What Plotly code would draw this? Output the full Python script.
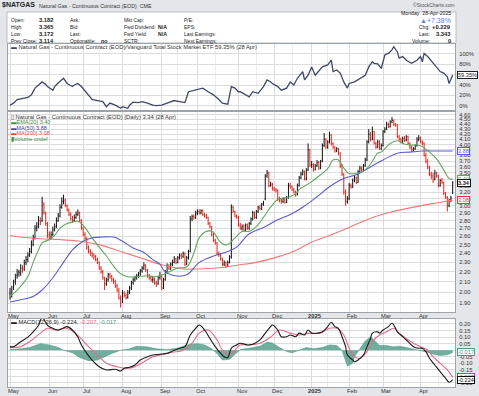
import numpy as np
import pandas as pd
import plotly.graph_objects as go

# ---------------- data ----------------
HOLIDAYS = ["2024-05-27", "2024-06-19", "2024-07-04", "2024-09-02", "2024-11-28",
            "2024-12-25", "2025-01-01", "2025-01-20", "2025-02-17", "2025-04-18"]
dates = [d for d in pd.bdate_range("2024-05-01", "2025-04-28")
         if d.strftime("%Y-%m-%d") not in HOLIDAYS]
idx = list(range(len(dates)))

opens = [
    1.99, 1.96, 2.04, 2.10, 2.16, 2.20, 2.18, 2.25, 2.23, 2.30, 2.33, 2.38, 2.42, 2.50, 2.58, 2.70, 2.72, 2.80, 2.80, 3.02, 2.90, 2.76,
    2.62, 2.58, 2.62, 2.68, 2.72, 2.80, 2.86, 2.98, 3.06, 3.08, 3.00, 2.94, 2.88, 2.82, 2.80, 2.84, 2.88, 2.90, 2.80,
    2.70, 2.62, 2.57, 2.46, 2.42, 2.40, 2.38, 2.36, 2.33, 2.30, 2.24, 2.20, 2.14, 2.08, 2.12, 2.17, 2.15, 2.12, 2.10, 2.06, 2.02, 1.95,
    1.92, 1.99, 1.97, 1.95, 2.00, 2.04, 2.09, 2.12, 2.14, 2.16, 2.18, 2.21, 2.24, 2.27, 2.22, 2.16, 2.14, 2.12, 2.12, 2.09, 2.08, 2.14,
    2.16, 2.04, 2.12, 2.20, 2.26, 2.24, 2.28, 2.30, 2.34, 2.30, 2.35, 2.38, 2.36, 2.40, 2.28, 2.35, 2.42, 2.82, 2.85, 2.84,
    2.90, 2.92, 2.90, 2.93, 2.88, 2.86, 2.84, 2.76, 2.72, 2.62, 2.55, 2.52, 2.40, 2.38, 2.34, 2.28, 2.30, 2.26, 2.30, 2.36, 2.98, 2.92, 2.86,
    2.84, 2.74, 2.70, 2.72, 2.68, 2.74, 2.70, 2.76, 2.82, 2.90, 2.84, 2.92, 2.98, 2.96, 3.02, 3.10, 3.45, 3.50, 3.30, 3.32,
    3.26, 3.24, 3.22, 3.10, 3.08, 3.06, 3.10, 3.05, 3.12, 3.30, 3.28, 3.24, 3.20, 3.16, 3.30, 3.42, 3.48, 3.52, 3.40, 3.55, 3.90,
    3.63, 3.64, 3.56, 3.62, 3.68, 3.58, 3.70, 3.98, 4.10, 3.95, 4.05, 4.18, 4.02, 3.95, 3.88, 3.92, 3.84, 3.62, 3.48, 3.20, 3.06,
    3.10, 3.30, 3.28, 3.38, 3.42, 3.35, 3.52, 3.58, 3.55, 3.62, 3.72, 4.05, 4.20, 4.10, 4.25, 4.02, 3.95, 4.05, 3.92,
    3.98, 4.25, 4.30, 4.40, 4.35, 4.45, 4.48, 4.40, 4.38, 4.15, 4.10, 4.05, 4.12, 4.08, 4.15, 4.02, 3.95, 3.90, 3.92, 3.98, 4.10,
    4.12, 4.05, 4.02, 3.80, 3.70, 3.60, 3.48, 3.45, 3.40, 3.50, 3.45, 3.30, 3.38, 3.35, 3.18, 3.12, 3.00, 3.08, 3.182,
]
highs = [
    2.04, 2.06, 2.12, 2.18, 2.23, 2.22, 2.28, 2.27, 2.33, 2.37, 2.41, 2.46, 2.55, 2.62, 2.74, 2.78, 2.86, 2.84, 3.13, 3.05, 2.92, 2.78,
    2.66, 2.66, 2.72, 2.76, 2.84, 2.90, 3.02, 3.12, 3.16, 3.10, 3.02, 2.96, 2.91, 2.86, 2.88, 2.92, 2.95, 2.92, 2.82,
    2.72, 2.65, 2.59, 2.49, 2.45, 2.42, 2.40, 2.38, 2.35, 2.31, 2.26, 2.22, 2.15, 2.14, 2.19, 2.19, 2.17, 2.14, 2.12, 2.08, 2.04, 1.97,
    2.02, 2.01, 1.99, 2.02, 2.06, 2.11, 2.14, 2.16, 2.18, 2.20, 2.23, 2.26, 2.30, 2.28, 2.23, 2.18, 2.16, 2.15, 2.14, 2.11, 2.16, 2.20,
    2.17, 2.14, 2.22, 2.29, 2.28, 2.30, 2.33, 2.37, 2.35, 2.37, 2.40, 2.40, 2.42, 2.41, 2.37, 2.44, 2.86, 2.88, 2.88, 2.93,
    2.95, 2.95, 2.95, 2.95, 2.90, 2.89, 2.85, 2.78, 2.73, 2.64, 2.57, 2.53, 2.42, 2.40, 2.35, 2.32, 2.31, 2.32, 2.38, 3.02, 3.00, 2.93, 2.88,
    2.86, 2.77, 2.75, 2.75, 2.76, 2.76, 2.78, 2.84, 2.93, 2.92, 2.94, 3.00, 3.01, 3.04, 3.07, 3.48, 3.55, 3.52, 3.36, 3.34,
    3.28, 3.26, 3.24, 3.13, 3.11, 3.12, 3.12, 3.14, 3.34, 3.34, 3.30, 3.26, 3.22, 3.33, 3.45, 3.52, 3.56, 3.54, 3.58, 4.02, 3.92,
    3.70, 3.66, 3.65, 3.72, 3.70, 3.72, 4.02, 4.22, 4.12, 4.08, 4.25, 4.20, 4.04, 3.97, 3.95, 3.94, 3.86, 3.65, 3.50, 3.24, 3.14,
    3.34, 3.33, 3.41, 3.46, 3.44, 3.55, 3.62, 3.61, 3.65, 3.76, 4.08, 4.30, 4.24, 4.35, 4.26, 4.05, 4.09, 4.08, 4.02,
    4.28, 4.34, 4.45, 4.43, 4.48, 4.55, 4.50, 4.42, 4.40, 4.18, 4.13, 4.15, 4.16, 4.18, 4.17, 4.04, 3.98, 3.95, 4.00, 4.14, 4.18,
    4.15, 4.08, 4.04, 3.85, 3.74, 3.62, 3.52, 3.50, 3.55, 3.52, 3.47, 3.40, 3.42, 3.36, 3.20, 3.14, 3.10, 3.14, 3.365,
]
lows = [
    1.93, 1.95, 2.02, 2.07, 2.13, 2.15, 2.16, 2.19, 2.21, 2.27, 2.30, 2.36, 2.40, 2.48, 2.56, 2.66, 2.70, 2.74, 2.78, 2.88, 2.73, 2.58,
    2.55, 2.56, 2.60, 2.66, 2.70, 2.78, 2.84, 2.96, 3.02, 2.98, 2.92, 2.86, 2.80, 2.77, 2.78, 2.82, 2.86, 2.78, 2.68,
    2.60, 2.55, 2.44, 2.40, 2.37, 2.35, 2.33, 2.31, 2.28, 2.22, 2.18, 2.12, 2.02, 2.06, 2.10, 2.13, 2.10, 2.08, 2.04, 2.00, 1.93, 1.86,
    1.90, 1.95, 1.93, 1.94, 1.98, 2.02, 2.07, 2.10, 2.12, 2.14, 2.16, 2.19, 2.22, 2.20, 2.14, 2.12, 2.10, 2.09, 2.07, 2.05, 2.07, 2.12,
    2.02, 2.03, 2.11, 2.18, 2.22, 2.22, 2.26, 2.29, 2.28, 2.29, 2.33, 2.34, 2.35, 2.26, 2.27, 2.33, 2.41, 2.79, 2.81, 2.82,
    2.87, 2.88, 2.88, 2.86, 2.84, 2.82, 2.74, 2.70, 2.60, 2.53, 2.50, 2.38, 2.36, 2.32, 2.26, 2.26, 2.24, 2.25, 2.29, 2.34, 2.90, 2.84, 2.82,
    2.72, 2.68, 2.67, 2.66, 2.66, 2.68, 2.68, 2.74, 2.80, 2.82, 2.82, 2.90, 2.94, 2.94, 3.00, 3.08, 3.42, 3.27, 3.28, 3.22,
    3.21, 3.19, 3.07, 3.05, 3.03, 3.04, 3.03, 3.04, 3.10, 3.25, 3.22, 3.18, 3.13, 3.15, 3.28, 3.40, 3.46, 3.38, 3.38, 3.53, 3.60,
    3.58, 3.52, 3.54, 3.60, 3.55, 3.56, 3.68, 3.95, 3.92, 3.92, 4.02, 3.98, 3.92, 3.85, 3.86, 3.80, 3.58, 3.45, 3.16, 3.00, 3.03,
    3.08, 3.25, 3.26, 3.35, 3.32, 3.34, 3.50, 3.52, 3.53, 3.60, 3.70, 4.02, 4.06, 4.08, 4.00, 3.92, 3.93, 3.90, 3.90,
    3.96, 4.22, 4.28, 4.32, 4.33, 4.42, 4.36, 4.35, 4.12, 4.06, 4.02, 4.03, 4.05, 4.06, 4.00, 3.92, 3.86, 3.87, 3.90, 3.96, 4.06,
    4.02, 3.98, 3.78, 3.66, 3.56, 3.45, 3.40, 3.34, 3.38, 3.42, 3.27, 3.28, 3.32, 3.15, 3.10, 2.92, 2.98, 3.05, 3.172,
]
closes = [
    1.96, 2.01, 2.06, 2.12, 2.17, 2.19, 2.24, 2.22, 2.29, 2.33, 2.38, 2.42, 2.50, 2.58, 2.70, 2.72, 2.80, 2.78, 3.05, 2.90, 2.76, 2.62,
    2.58, 2.62, 2.68, 2.72, 2.80, 2.86, 2.98, 3.06, 3.08, 3.00, 2.94, 2.88, 2.82, 2.80, 2.84, 2.88, 2.90, 2.80, 2.70,
    2.62, 2.57, 2.46, 2.42, 2.40, 2.38, 2.36, 2.33, 2.30, 2.24, 2.20, 2.14, 2.08, 2.12, 2.17, 2.15, 2.12, 2.10, 2.06, 2.02, 1.95, 1.90,
    1.99, 1.97, 1.95, 2.00, 2.04, 2.09, 2.12, 2.14, 2.16, 2.18, 2.21, 2.24, 2.27, 2.22, 2.16, 2.14, 2.12, 2.12, 2.09, 2.08, 2.14, 2.16,
    2.04, 2.12, 2.20, 2.26, 2.24, 2.28, 2.30, 2.34, 2.30, 2.35, 2.38, 2.36, 2.40, 2.28, 2.35, 2.42, 2.82, 2.85, 2.84, 2.90,
    2.92, 2.90, 2.93, 2.88, 2.86, 2.84, 2.76, 2.72, 2.62, 2.55, 2.52, 2.40, 2.38, 2.34, 2.28, 2.30, 2.26, 2.30, 2.36, 2.98, 2.92, 2.86, 2.84,
    2.74, 2.70, 2.72, 2.68, 2.74, 2.70, 2.76, 2.82, 2.90, 2.84, 2.92, 2.98, 2.96, 3.02, 3.05, 3.45, 3.50, 3.30, 3.32, 3.26,
    3.24, 3.22, 3.10, 3.08, 3.06, 3.10, 3.05, 3.12, 3.30, 3.28, 3.24, 3.20, 3.16, 3.30, 3.42, 3.48, 3.52, 3.40, 3.55, 3.90, 3.63,
    3.64, 3.56, 3.62, 3.68, 3.58, 3.70, 3.98, 4.10, 3.95, 4.05, 4.18, 4.02, 3.95, 3.88, 3.92, 3.84, 3.62, 3.48, 3.20, 3.06, 3.10,
    3.30, 3.28, 3.38, 3.42, 3.35, 3.52, 3.58, 3.55, 3.62, 3.72, 4.05, 4.20, 4.10, 4.25, 4.02, 3.95, 4.05, 3.92, 3.98,
    4.25, 4.30, 4.40, 4.35, 4.45, 4.48, 4.40, 4.38, 4.15, 4.10, 4.05, 4.12, 4.08, 4.15, 4.02, 3.95, 3.90, 3.92, 3.98, 4.10, 4.12,
    4.05, 4.02, 3.80, 3.70, 3.60, 3.48, 3.45, 3.40, 3.50, 3.45, 3.30, 3.38, 3.35, 3.18, 3.12, 3.00, 3.08, 3.114, 3.343,
]
assert len(opens) == len(highs) == len(lows) == len(closes) == len(dates), (
    len(opens), len(highs), len(lows), len(closes), len(dates))

# moving averages (bar index, value)
ema20_idx = [0, 4, 10, 13, 16, 18, 22, 25, 28, 32, 35, 38, 40, 43, 46, 50, 54, 58, 62, 66, 71, 77, 82, 88, 94, 99, 103,
             106, 110, 114, 117, 120, 122, 126, 130, 134, 138, 142, 146, 150, 153, 157, 161, 162, 168, 174, 178, 181,
             184, 187, 190, 194, 198, 202, 206, 208, 213, 217, 220, 224, 228, 231, 235, 239, 243, 246, 248]
ema20_val = [1.96, 2.02, 2.15, 2.30, 2.44, 2.52, 2.56, 2.61, 2.70, 2.76, 2.78, 2.79, 2.76, 2.68, 2.58, 2.47, 2.37, 2.26,
             2.18, 2.15, 2.15, 2.16, 2.15, 2.19, 2.24, 2.25, 2.40, 2.58, 2.66, 2.65, 2.55, 2.50, 2.50, 2.58, 2.66, 2.66,
             2.72, 2.84, 2.98, 3.09, 3.11, 3.13, 3.20, 3.24, 3.34, 3.47, 3.57, 3.72, 3.72, 3.58, 3.49, 3.49, 3.53, 3.65,
             3.84, 3.86, 4.02, 4.07, 4.02, 3.99, 3.99, 3.96, 3.86, 3.74, 3.55, 3.41, 3.40]
ma50_idx = [0, 6, 13, 18, 24, 30, 35, 41, 46, 52, 58, 63, 69, 75, 80, 84, 86, 90, 99, 106, 114, 122, 127, 134, 142, 150,
            157, 164, 172, 179, 187, 194, 202, 209, 217, 224, 231, 239, 248]
ma50_val = [1.91, 1.93, 1.96, 2.02, 2.14, 2.30, 2.44, 2.54, 2.58, 2.59, 2.59, 2.54, 2.46, 2.41, 2.33, 2.28, 2.22, 2.17,
            2.17, 2.30, 2.37, 2.42, 2.47, 2.63, 2.71, 2.81, 2.88, 2.98, 3.13, 3.28, 3.41, 3.47, 3.60, 3.72, 3.84, 3.86,
            3.88, 3.88, 3.88]
ma200_idx = [0, 6, 17, 28, 39, 50, 62, 73, 84, 97, 105, 116, 127, 138, 150, 161, 168, 179, 190, 202, 213, 224, 239, 248]
ma200_val = [2.61, 2.59, 2.57, 2.56, 2.54, 2.50, 2.42, 2.35, 2.28, 2.23, 2.23, 2.24, 2.27, 2.30, 2.36, 2.44, 2.52, 2.61,
             2.71, 2.83, 2.91, 2.97, 3.04, 3.08]

# relative strength vs VTI, % change (bar index, value)
ratio_idx = [0, 2, 4, 7, 10, 12, 14, 16, 18, 20, 21, 24, 25, 27, 30, 32, 35, 36, 38, 40, 43, 46, 49, 52, 54, 56, 59, 62,
             63, 66, 67, 69, 72, 74, 77, 80, 82, 85, 88, 90, 92, 95, 98, 100, 103, 105, 108, 111, 114, 117, 119, 122,
             124, 126, 128, 129, 132, 134, 136, 139, 142, 144, 146, 147, 150, 152, 155, 157, 159, 161, 164, 165, 167,
             169, 171, 173, 175, 178, 180, 181, 183, 185, 187, 189, 190, 193, 196, 199, 201, 203, 204, 206, 208, 210,
             212, 214, 215, 217, 218, 220, 222, 225, 228, 230, 231, 232, 234, 237, 239, 241, 243, 245, 246, 247, 248]
ratio_val = [1, 5, 12, 14, 16, 21, 34, 40, 46, 41, 37, 30, 37, 44, 53, 43, 37, 40, 43, 37, 24, 12, 10, 8, -2, 5, 1, -5,
             -2, -5, 1, 7, 6, 8, 5, 1, 0, 1, 5, 8, 10, 8, 6, 27, 30, 32, 34, 27, 21, 12, 5, 3, 37, 34, 27, 27, 21, 17,
             27, 24, 37, 50, 46, 43, 37, 30, 34, 46, 40, 53, 66, 50, 59, 75, 59, 66, 75, 79, 88, 66, 69, 63, 46, 34, 43,
             46, 53, 59, 75, 85, 82, 81, 72, 98, 101, 108, 114, 104, 92, 95, 88, 82, 88, 95, 85, 101, 95, 82, 75, 66, 63,
             56, 43, 50, 59.35]

# MACD(12,26,9)
macd_idx = [0, 2, 6, 10, 13, 16, 18, 21, 24, 27, 30, 32, 35, 38, 40, 43, 46, 50, 54, 59, 62, 64, 67, 70, 73, 77, 80, 84,
            88, 91, 95, 98, 101, 104, 106, 109, 112, 115, 118, 120, 122, 124, 127, 129, 133, 136, 140, 143, 146, 147,
            150, 152, 155, 157, 160, 162, 165, 167, 169, 172, 175, 178, 180, 182, 184, 186, 188, 189, 192, 193, 195,
            198, 200, 202, 203, 206, 207, 209, 212, 214, 216, 217, 220, 223, 226, 229, 231, 233, 235, 238, 241, 244,
            246, 248]
macd_val = [0.027, 0.027, 0.065, 0.10, 0.14, 0.19, 0.25, 0.19, 0.167, 0.154, 0.17, 0.18, 0.154, 0.10, 0.04, -0.024,
            -0.075, -0.126, -0.151, -0.146, -0.159, -0.138, -0.13, -0.113, -0.075, -0.05, -0.037, -0.031, -0.024,
            -0.006, 0.015, 0.027, 0.116, 0.167, 0.192, 0.154, 0.09, 0.027, -0.024, -0.05, -0.057, 0.015, 0.04, 0.053,
            0.04, 0.045, 0.078, 0.13, 0.18, 0.192, 0.154, 0.103, 0.103, 0.116, 0.103, 0.13, 0.116, 0.154, 0.13, 0.13,
            0.14, 0.18, 0.213, 0.18, 0.167, 0.103, 0.027, -0.037, -0.075, -0.088, -0.075, -0.037, 0.027, 0.09, 0.13,
            0.14, 0.13, 0.154, 0.18, 0.205, 0.167, 0.14, 0.103, 0.065, 0.027, 0.015, 0.015, -0.011, -0.062, -0.113,
            -0.164, -0.214, -0.245, -0.224]
signal_idx = [0, 6, 11, 17, 21, 26, 31, 35, 39, 44, 49, 54, 60, 66, 70, 75, 80, 86, 91, 97, 102, 106, 111, 116, 119,
              123, 127, 129, 134, 140, 146, 151, 157, 162, 168, 174, 179, 183, 187, 190, 193, 196, 200, 203, 207, 211,
              215, 218, 222, 226, 230, 234, 237, 241, 245, 248]
signal_val = [0.02, 0.027, 0.065, 0.13, 0.167, 0.154, 0.167, 0.147, 0.10, 0.027, -0.037, -0.10, -0.126, -0.138, -0.126,
              -0.088, -0.05, -0.031, -0.016, 0.0, 0.053, 0.13, 0.154, 0.078, 0.0, -0.037, 0.015, 0.04, 0.04, 0.053,
              0.10, 0.154, 0.13, 0.116, 0.13, 0.13, 0.167, 0.167, 0.116, 0.015, -0.05, -0.062, -0.011, 0.065, 0.116,
              0.14, 0.167, 0.13, 0.09, 0.053, 0.027, 0.0, -0.05, -0.10, -0.151, -0.207]
hist_idx = [0, 6, 11, 17, 22, 27, 30, 35, 39, 44, 49, 53, 57, 62, 67, 71, 77, 82, 88, 94, 99, 105, 109, 113, 116, 119,
            123, 127, 129, 134, 140, 144, 147, 151, 155, 158, 162, 166, 170, 175, 179, 183, 186, 188, 189, 192, 193,
            196, 199, 202, 203, 207, 211, 215, 218, 222, 226, 230, 234, 237, 241, 245, 248]
hist_val = [0.005, 0.01, 0.02, 0.05, 0.04, 0.02, 0.0, -0.02, -0.055, -0.08, -0.075, -0.05, -0.025, 0.0, 0.01, 0.03,
            0.025, 0.01, 0.005, 0.015, 0.04, 0.05, 0.04, 0.01, -0.025, -0.075, -0.07, -0.02, 0.005, 0.015, 0.03, 0.06,
            0.055, 0.02, -0.01, -0.02, 0.0, 0.02, 0.01, 0.02, 0.04, 0.035, 0.0, -0.07, -0.12, -0.10, -0.05, 0.01,
            0.07, 0.10, 0.09, 0.035, 0.035, 0.025, 0.03, 0.02, 0.01, 0.0, -0.015, -0.03, -0.04, -0.035, -0.017]

pct_ticks = [0, 20, 40, 60, 80, 100]
price_ticks = [round(1.9 + 0.1 * k, 2) for k in range(28)]
macd_ticks = [round(-0.25 + 0.05 * k, 2) for k in range(10)]

# ---------------- layout helpers (pixels -> paper) ----------------
W, H = 479, 396
ML, MR, MT, MB = 8, 24, 44, 9
PW, PH = W - ML - MR, H - MT - MB


def px(x):
    return (x - ML) / PW


def py(y):
    return (H - MB - y) / PH


FONT = "Liberation Sans"
BG = "#e4e6e9"
GRID = "#dcdcdc"
GRID2 = "#ececec"
C_UP, C_DN = "#111111", "#e3241c"
C_EMA, C_MA50, C_MA200 = "#62a75e", "#5b5bc9", "#ef7a78"
C_RATIO = "#3f4868"
C_MACD, C_SIG, C_HIST = "#1a1a1a", "#e06c86", "#4f9a86"

month_start = [i for i in idx if i == 0 or dates[i].month != dates[i - 1].month]
month_lbl = ["2025" if dates[i].month == 1 else dates[i].strftime("%b") for i in month_start]
mid_month = [i for i in idx if i > 0 and dates[i].day >= 15 and dates[i - 1].day < 15]

XR = [-1.12, 249.3]

fig = go.Figure()

# panel 1: ratio
fig.add_trace(go.Scatter(x=ratio_idx, y=ratio_val, mode="lines", line=dict(color=C_RATIO, width=1.3),
                         xaxis="x", yaxis="y"))

# panel 2: price bars + MAs
up = [i for i in idx if i == 0 or closes[i] >= closes[i - 1]]
dn = [i for i in idx if i > 0 and closes[i] < closes[i - 1]]
for sel, col in ((up, C_UP), (dn, C_DN)):
    fig.add_trace(go.Ohlc(x=sel, open=[opens[i] for i in sel], high=[highs[i] for i in sel],
                          low=[lows[i] for i in sel], close=[closes[i] for i in sel],
                          increasing=dict(line=dict(color=col, width=1)),
                          decreasing=dict(line=dict(color=col, width=1)),
                          tickwidth=0.35, xaxis="x2", yaxis="y2"))
fig.add_trace(go.Scatter(x=ma200_idx, y=ma200_val, mode="lines", line=dict(color=C_MA200, width=1.1, shape="spline"),
                         xaxis="x2", yaxis="y2"))
fig.add_trace(go.Scatter(x=ma50_idx, y=ma50_val, mode="lines", line=dict(color=C_MA50, width=1.1, shape="spline"),
                         xaxis="x2", yaxis="y2"))
fig.add_trace(go.Scatter(x=ema20_idx, y=ema20_val, mode="lines", line=dict(color=C_EMA, width=1.1, shape="spline"),
                         xaxis="x2", yaxis="y2"))

# panel 3: MACD
fig.add_trace(go.Scatter(x=hist_idx, y=hist_val, mode="lines", fill="tozeroy",
                         line=dict(color=C_HIST, width=0.6), fillcolor="rgba(79,154,134,0.8)",
                         xaxis="x3", yaxis="y3"))
fig.add_trace(go.Scatter(x=signal_idx, y=signal_val, mode="lines", line=dict(color=C_SIG, width=1.1, shape="spline"),
                         xaxis="x3", yaxis="y3"))
fig.add_trace(go.Scatter(x=macd_idx, y=macd_val, mode="lines", line=dict(color=C_MACD, width=1.1, shape="spline"),
                         xaxis="x3", yaxis="y3"))

xa = dict(range=XR, tickvals=month_start, showticklabels=False, ticks="", showgrid=True, gridcolor=GRID,
          gridwidth=1, zeroline=False, showline=True, mirror=True, linecolor="#9da3aa", linewidth=1,
          rangeslider=dict(visible=False),
          minor=dict(tickvals=mid_month, showgrid=True, gridcolor=GRID2, ticks=""))
ya = dict(side="right", ticks="", showgrid=True, gridcolor=GRID, zeroline=False, showline=True, mirror=True,
          linecolor="#9da3aa", linewidth=1, ticklabelstandoff=2, automargin=False,
          tickfont=dict(size=5.8, color="#333", family=FONT))

dom1 = [py(110), py(MT)]
dom2 = [py(312), py(112)]
dom3 = [0, py(319)]

fig.update_layout(
    width=W, height=H, margin=dict(l=ML, r=MR, t=MT, b=MB, pad=0, autoexpand=False),
    paper_bgcolor=BG, plot_bgcolor="white", showlegend=False,
    font=dict(family=FONT, size=6, color="#222"),
    xaxis=dict(xa, anchor="y"),
    xaxis2=dict(xa, anchor="y2", matches="x"),
    xaxis3=dict(xa, anchor="y3", matches="x"),
    yaxis=dict(ya, domain=dom1, range=[-8.3, 119.3], tickvals=pct_ticks,
               ticktext=[f"{v}%" for v in pct_ticks]),
    yaxis2=dict(ya, domain=dom2, type="log", range=[np.log10(1.822), np.log10(4.659)], tickvals=price_ticks,
                ticktext=[f"{v:.2f}" for v in price_ticks]),
    yaxis3=dict(ya, domain=dom3, range=[-0.281, 0.238], tickvals=macd_ticks,
                ticktext=[f"{v:.2f}" for v in macd_ticks]),
)

shapes = [
    dict(type="rect", xref="paper", yref="paper", x0=px(7), x1=px(456), y0=py(43), y1=py(12),
         fillcolor="white", line=dict(color="#b9bec4", width=1), layer="below"),
]
fig.update_layout(shapes=shapes)

ann = []


def txt(x, y, s, size=6, color="#222", anchor="left", bold=False):
    if bold:
        s = f"<b>{s}</b>"
    ann.append(dict(xref="paper", yref="paper", x=px(x), y=py(y), text=s, showarrow=False,
                    xanchor=anchor, yanchor="middle", font=dict(size=size, color=color, family=FONT)))


# header
txt(0, 5.5, "$NATGAS", size=7, bold=True)
txt(37, 6, "Natural Gas - Continuous Contract (EOD)  CME", size=5.3, color="#333")
txt(457, 5.5, "©StockCharts.com", size=5, color="#555", anchor="right")
rows = [20, 26.8, 33.8, 40.6]
labels1 = ["Open:", "High:", "Low:", "Prev Close:"]
vals1 = ["3.182", "3.365", "3.172", "3.114"]
labels2 = ["Ask:", "Bid:", "Last:", "Optionable:"]
labels3 = ["Mkt Cap:", "Fwd Dividend:", "Fwd Yield:", "SCTR:"]
vals3 = ["", "N/A", "N/A", ""]
labels4 = ["P/E:", "EPS:", "Last Earnings:", "Next Earnings:"]
for r, a, b, c, d, e, f in zip(rows, labels1, vals1, labels2, labels3, vals3, labels4):
    txt(9, r, a, size=5.0)
    txt(37, r, b, size=5.8, bold=True)
    txt(68, r, c, size=5.0)
    txt(122, r, d, size=5.0)
    if e:
        txt(156, r, e, size=5.2, bold=True)
    txt(182, r, f, size=5.0)
txt(99, rows[3], "no", size=5.2, bold=True)

txt(453, 12.8, "Monday  28-Apr-2025", size=5.2, anchor="right")
txt(453, 20, "▲+7.38%", size=7, color="#5b86c7", anchor="right")
txt(417, 26.8, "Chg:", size=5.0)
txt(453, 26.8, "+0.229", size=5.8, bold=True, anchor="right")
txt(417, 33.8, "Last:", size=5.0)
txt(453, 33.8, "3.343", size=5.8, bold=True, anchor="right")
txt(410, 40.6, "Volume:", size=5.0)
txt(453, 40.6, "0", size=5.8, bold=True, anchor="right")

# panel legends
ratio_legend = (f"<span style='color:{C_RATIO}'>▬</span> Natural Gas - Continuous Contract (EOD)/"
                f"Vanguard Total Stock Market ETF 59.35% (28 Apr)")
txt(9, 47, ratio_legend, size=5.8, color="#333")
txt(9, 116.5, "▯ Natural Gas - Continuous Contract (EOD) (Daily) 3.34 (28 Apr)", size=5.8, color="#333")
txt(9, 122.3, "▬EMA(20) 3.40", size=5.5, color="#3f8f3b")
txt(9, 127.7, "▬MA(50) 3.88", size=5.5, color="#4444b8")
txt(9, 133.1, "▬MA(200) 3.08", size=5.5, color="#d84a48")
txt(9, 138.5, "▮Volume undef", size=5.5, color="#3f8f3b")
macd_legend = (f"▬ MACD(12,26,9) -0.224, <span style='color:{C_SIG}'>-0.207,</span> "
               f"<span style='color:{C_HIST}'>-0.017</span>")
txt(9, 321.5, macd_legend, size=5.8, color="#222")

# month labels (two rows)
for i, lab in zip(month_start, month_lbl):
    s = f"<b>{lab}</b>" if lab == "2025" else lab
    for yy in (315.6, 391):
        ann.append(dict(xref="x", yref="paper", x=i + 1.8, y=py(yy), text=s, showarrow=False,
                        xanchor="center", yanchor="middle", font=dict(size=5.8, color="#333", family=FONT)))


# value boxes on right axes
def vbox(yref, yv, s, col, bold=False):
    ann.append(dict(xref="paper", yref=yref, x=px(456.5), y=yv, text=f"<b>{s}</b>" if bold else s,
                    showarrow=False, xanchor="left", yanchor="middle", bgcolor="white", bordercolor=col,
                    borderwidth=1, borderpad=0, font=dict(size=5.6, color=col, family=FONT)))


vbox("y", 59.35, "59.35%", "#222")
vbox("y2", np.log10(3.88), "3.88", C_MA50)
vbox("y2", np.log10(3.08), "3.08", "#e0403c")
vbox("y2", np.log10(3.40), "3.40", C_EMA)
vbox("y2", np.log10(3.34), "3.34", "#111", bold=True)
vbox("y3", -0.017, "-0.017", C_HIST)
vbox("y3", -0.207, "-0.207", "#e0403c")
vbox("y3", -0.224, "-0.224", "#111")

fig.update_layout(annotations=ann)
fig.write_html("out.html", config={"displayModeBar": False},
               post_script="document.body.style.margin='0px';document.body.style.overflow='hidden';")
